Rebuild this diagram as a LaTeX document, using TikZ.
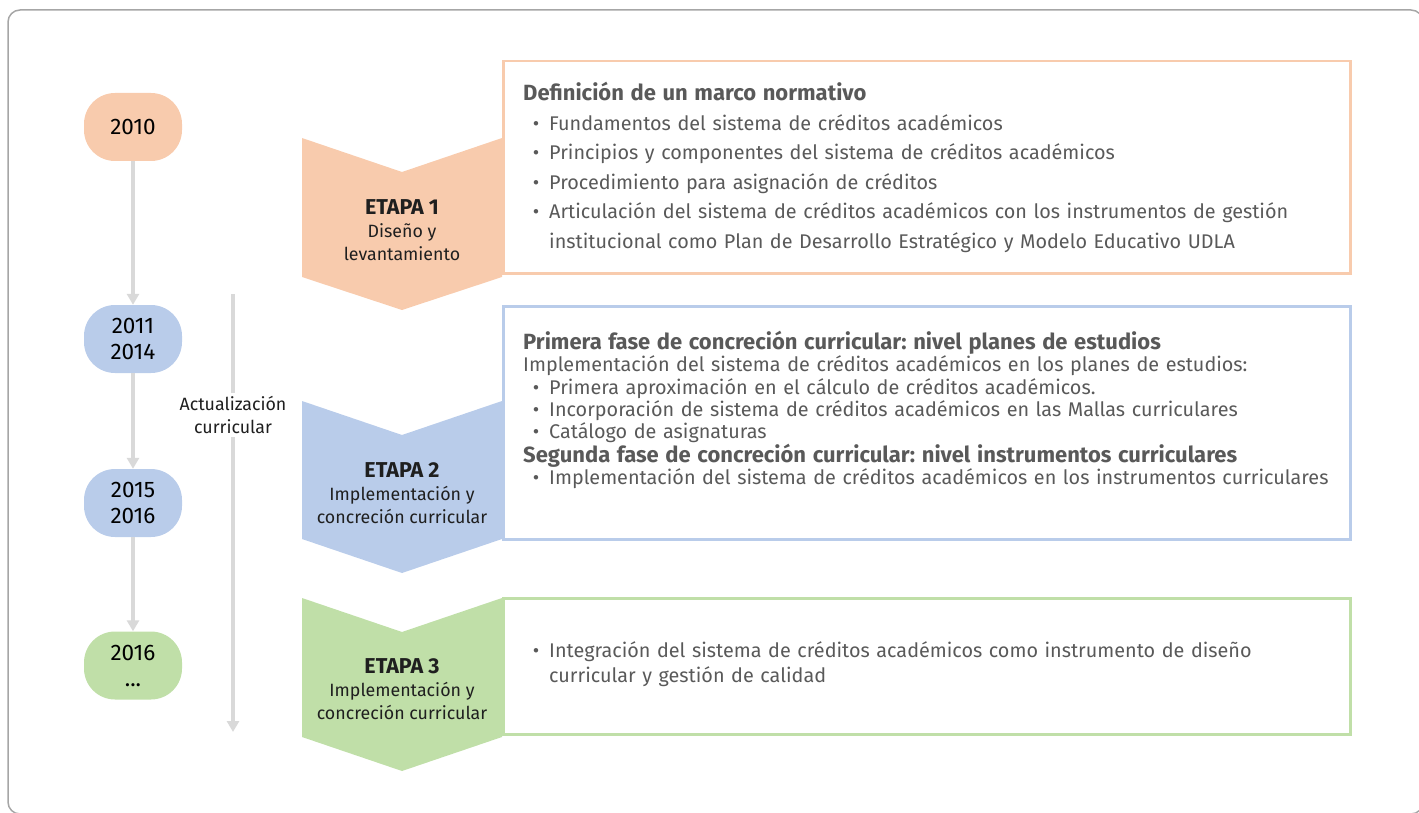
\documentclass[tikz,border=0pt]{standalone}
\usepackage{fontspec}
\setmainfont{Fira Sans}
\usetikzlibrary{arrows.meta}
\definecolor{peach}{HTML}{F8CBAD}
\definecolor{sky}{HTML}{B9CCEA}
\definecolor{leaf}{HTML}{C0DFA8}
\definecolor{railgray}{HTML}{D9D9D9}
\definecolor{txtgray}{HTML}{595959}
\definecolor{framegray}{HTML}{A6A6A6}
\tikzset{>={Triangle[width=12pt,length=11pt]}}
\setlength{\parindent}{0pt}
\frenchspacing
\hyphenpenalty=10000
\newcommand{\bul}[1]{\par\hangindent=26pt\hangafter=1\noindent\makebox[26pt][c]{\textbullet}#1}

\begin{document}
\begin{tikzpicture}[x=1pt,y=-1pt,
    year/.style={fill=#1,rounded corners=31pt,minimum width=98pt,minimum height=68pt,align=center,font=\fontsize{22.5}{26}\selectfont},
    rail/.style={draw=railgray,line width=4pt},
    stagebox/.style={draw=#1,line width=2.5pt,anchor=north west,minimum width=847pt},
    stagelbl/.style={align=center,text=black!88,font=\fontsize{17.8}{23}\selectfont},
    boxtxt/.style={anchor=north west,inner sep=0pt,text width=818pt,align=left,text=txtgray}]
    \useasboundingbox (0,0) rectangle (1419,813);
    \draw[framegray,line width=1.5pt,rounded corners=12pt] (8,10) rectangle (1423,814);

    \node[year=peach] (y2010) at (133,127) {2010};
    \node[year=sky] (y2011) at (133,339) {2011\\2014};
    \node[year=sky] (y2015) at (133,503) {2015\\2016};
    \node[year=leaf] (y2016) at (133,665.5) {2016\\...};
    \draw[rail,->] (y2010) -- (y2011);
    \draw[rail,->] (y2011) -- (y2015);
    \draw[rail,->] (y2015) -- (y2016);

    \coordinate (updtop) at (233,294);
    \node[stagelbl] (upd) at (233,415) {Actualización\\curricular};
    \coordinate (updend) at (233,732);
    \draw[rail] (updtop) -- (upd);
    \draw[rail,->] (upd) -- (updend);

    \node[stagebox=peach,minimum height=212pt] (box1) at (502,60) {};
    \node[stagebox=sky,minimum height=233pt] (box2) at (502,305) {};
    \node[stagebox=leaf,minimum height=136pt] (box3) at (502,597) {};

    \fill[peach] (302,138)--(402,172)--(502,138)--(502,277)--(402,310)--(302,277)--cycle;
    \fill[sky] (302,401)--(402,435)--(502,401)--(502,539)--(402,573)--(302,539)--cycle;
    \fill[leaf] (302,598)--(402,632)--(502,598)--(502,737)--(402,771)--(302,737)--cycle;

    \node[stagelbl] (stage1) at (402,230) {{\fontsize{21.5}{23}\selectfont\bfseries ETAPA 1}\\Diseño y\\levantamiento};
    \node[stagelbl] (stage2) at (402,493) {{\fontsize{21.5}{23}\selectfont\bfseries ETAPA 2}\\Implementación y\\concreción curricular};
    \node[stagelbl] (stage3) at (402,689) {{\fontsize{21.5}{23}\selectfont\bfseries ETAPA 3}\\Implementación y\\concreción curricular};

    \node[boxtxt,font=\fontsize{19.8}{29.5}\selectfont] (txt1) at (523,82) {%
        {\fontsize{22}{29.5}\selectfont\bfseries Definición de un marco normativo\par}
        \bul{Fundamentos del sistema de créditos académicos}
        \bul{Principios y componentes del sistema de créditos académicos}
        \bul{Procedimiento para asignación de créditos}
        \bul{Articulación del sistema de créditos académicos con los instrumentos de gestión\newline institucional como Plan de Desarrollo Estratégico y Modelo Educativo UDLA}\par};
    \node[boxtxt,font=\fontsize{19.8}{22.3}\selectfont] (txt2) at (523,331) {%
        {\fontsize{22}{22.3}\selectfont\bfseries Primera fase de concreción curricular: nivel planes de estudios\par}
        Implementación del sistema de créditos académicos en los planes de estudios:
        \bul{Primera aproximación en el cálculo de créditos académicos.}
        \bul{Incorporación de sistema de créditos académicos en las Mallas curriculares}
        \bul{Catálogo de asignaturas}\par
        {\fontsize{22}{22.3}\selectfont\bfseries Segunda fase de concreción curricular: nivel instrumentos curriculares\par}
        \bul{Implementación del sistema de créditos académicos en los instrumentos curriculares}\par};
    \node[boxtxt,font=\fontsize{19.8}{25}\selectfont] (txt3) at (523,632) {%
        \bul{Integración del sistema de créditos académicos como instrumento de diseño\newline curricular y gestión de calidad}\par};
\end{tikzpicture}
\end{document}
